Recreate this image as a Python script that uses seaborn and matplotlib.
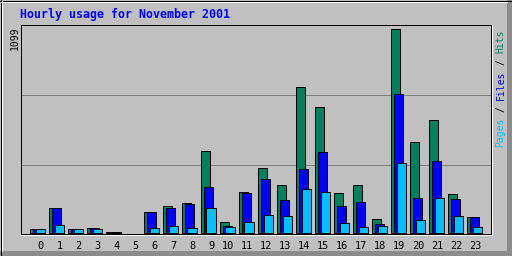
import numpy as np
import pandas as pd
import matplotlib
matplotlib.use("Agg")
import matplotlib.pyplot as plt
from matplotlib.lines import Line2D
from matplotlib.patches import Rectangle
from matplotlib.transforms import blended_transform_factory
import seaborn as sns

# ---- data ----
hours = list(range(24))
hour_labels = [str(h) for h in hours]
hits  = [20, 133, 20, 25, 3, 0, 112, 144, 160, 441, 58, 220, 348, 256, 787, 677, 213, 256, 72, 1099, 488, 609, 209, 85]
files = [20, 133, 20, 25, 3, 0, 112, 133, 155, 247, 36, 214, 290, 175, 343, 436, 143, 164, 45, 748, 186, 386, 180, 85]
pages = [20, 42, 20, 20, 3, 0, 25, 36, 25, 133, 31, 58, 96, 89, 236, 218, 51, 31, 35, 375, 69, 186, 89, 29]
title = "Hourly usage for November 2001"
max_label = "1099"
grid_values = [364, 742]

GREEN = "#00805C"
BLUE = "#0000FF"
CYAN = "#00C0FF"
BG = "#C0C0C0"

sns.set_theme(style="white")
plt.rcParams["font.family"] = ["DejaVu Sans Mono", "DejaVu Sans"]

W, H = 512, 256
fig = plt.figure(figsize=(W / 100, H / 100), dpi=100)
fig.patch.set_facecolor(BG)

def fx(px):
    return px / W

def fy(py):
    return 1 - py / H

# plot frame in pixels
L, R, T, B = 20.5, 490.5, 25.0, 233.5
ax = fig.add_axes([fx(L), fy(B), fx(R) - fx(L), fy(T) - fy(B)])
ax.set_facecolor(BG)

df = pd.DataFrame({"hour": hours, "hits": hits, "files": files, "pages": pages})

PX = 19.0  # pixels per hour slot
off = 3.0 / PX
lw = 0.72
for col, color, shift in [("hits", GREEN, -off), ("files", BLUE, 0.0), ("pages", CYAN, off)]:
    sns.barplot(x=df["hour"] + shift, y=df[col], native_scale=True, width=0.5,
                color=color, saturation=1, edgecolor="black", linewidth=lw,
                errorbar=None, ax=ax, zorder=2)

for p in ax.patches:
    if p.get_height() == 0:
        p.set_visible(False)

# scales: baseline at 232.7px, 1099 at 29.3px
ppu = (232.7 - 29.3) / max(hits)
ax.set_ylim(-(B - 232.7) / ppu, (232.7 - T) / ppu)
x0 = 37.25  # pixel centre of hour 0 files bar
ax.set_xlim((L - x0) / PX, (R - x0) / PX)

for g in grid_values:
    ax.axhline(g, color="#808080", linewidth=lw, zorder=1)

ax.set_xticks([])
ax.set_yticks([])
ax.set_xlabel("")
ax.set_ylabel("")
for s in ax.spines.values():
    s.set_color("black")
    s.set_linewidth(lw)
    s.set_visible(True)

# white bevel lines right/bottom of frame
fig.add_artist(Line2D([fx(491.5), fx(491.5)], [fy(T), fy(234.5)], color="white", lw=lw))
fig.add_artist(Line2D([fx(L), fx(491.5)], [fy(234.5), fy(234.5)], color="white", lw=lw))

# hour labels
tr = blended_transform_factory(ax.transData, fig.transFigure)
for h, lab in zip(hours, hour_labels):
    dx = (3.5 if len(lab) == 1 else 1.0) / PX
    ax.text(h + dx, fy(249.3), lab, transform=tr, ha="center", va="baseline",
            fontsize=7.4, color="black")

# title
fig.text(fx(20), fy(18.4), title, ha="left", va="baseline", fontsize=8.4,
         fontweight="bold", color=BLUE)

# max label
fig.text(fx(18.3), fy(26.7), max_label, rotation=90, rotation_mode="anchor",
         ha="right", va="baseline", fontsize=7, color="black")

# right legend text, placed piece by piece (monospace advance)
fs = 7
adv = 0.602 * fs * 100 / 72  # px per character
pieces = [("Pages", 0, CYAN), ("/", 6, "black"), ("Files", 8, BLUE), ("/", 14, "black"), ("Hits", 16, GREEN)]
for txt, start, col in pieces:
    fig.text(fx(503.5), fy(146.7 - start * adv), txt, rotation=90, rotation_mode="anchor",
             ha="left", va="baseline", fontsize=fs, color=col)

# outer border
fig.add_artist(Rectangle((fx(507), 0), fx(5), 1, transform=fig.transFigure,
                         facecolor="#8C8C8C", edgecolor="none"))
fig.add_artist(Rectangle((0, 0), 1, 5 / H, transform=fig.transFigure,
                         facecolor="#8C8C8C", edgecolor="none"))
fig.add_artist(Line2D([fx(0.5), fx(0.5)], [0, 1], color="black", lw=lw))
fig.add_artist(Line2D([0, 1], [fy(0.5), fy(0.5)], color="black", lw=lw))
fig.add_artist(Line2D([fx(1.5), fx(1.5)], [fy(251), fy(1)], color="white", lw=lw))
fig.add_artist(Line2D([fx(1), fx(507)], [fy(1.5), fy(1.5)], color="white", lw=lw))

fig.savefig("out.png", dpi=100, facecolor=fig.get_facecolor())
